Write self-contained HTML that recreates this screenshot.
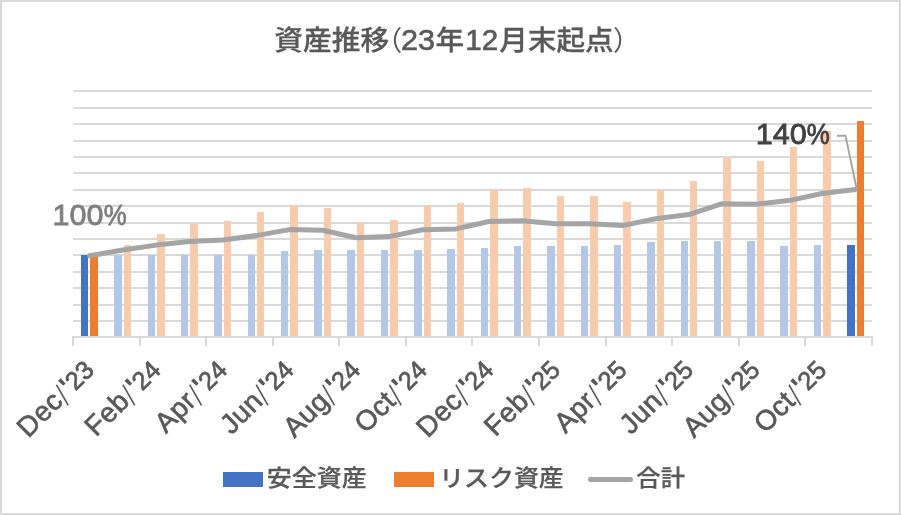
<!DOCTYPE html>
<html lang="ja"><head><meta charset="utf-8"><title>資産推移</title>
<style>html,body{margin:0;padding:0;background:#fff}body{width:901px;height:515px;overflow:hidden}svg{display:block}text{font-family:"Liberation Sans","Noto Sans CJK JP",sans-serif}.t{font-size:28px;fill:#595959;font-weight:500;stroke:#595959;stroke-width:0.3px}.xl{font-size:28px;fill:#595959;text-anchor:end;stroke:#595959;stroke-width:0.65px}.m{letter-spacing:0.4px}.s{font-size:32px;stroke:#fff;stroke-width:0.7px}.q{stroke-width:1.2px}.d{font-size:25.5px;stroke-width:0.7px}.lg{font-size:23.1px;fill:#595959;font-weight:500;stroke:#595959;stroke-width:0.25px}</style></head><body>
<svg width="901" height="515" viewBox="0 0 901 515">
<rect x="0" y="0" width="901" height="515" fill="#fff"/>
<rect x="1" y="1" width="899" height="513" fill="none" stroke="#D9D9D9" stroke-width="2"/>
<g fill="#D9D9D9">
<rect x="73" y="90" width="799" height="2"/>
<rect x="73" y="107" width="799" height="2"/>
<rect x="73" y="123" width="799" height="2"/>
<rect x="73" y="140" width="799" height="2"/>
<rect x="73" y="156" width="799" height="2"/>
<rect x="73" y="172" width="799" height="2"/>
<rect x="73" y="189" width="799" height="2"/>
<rect x="73" y="205" width="799" height="2"/>
<rect x="73" y="222" width="799" height="2"/>
<rect x="73" y="238" width="799" height="2"/>
<rect x="73" y="254" width="799" height="2"/>
<rect x="73" y="271" width="799" height="2"/>
<rect x="73" y="287" width="799" height="2"/>
<rect x="73" y="304" width="799" height="2"/>
<rect x="73" y="320" width="799" height="2"/>
</g>
<g>
<rect x="81" y="255" width="7" height="81" fill="#4472C4"/>
<rect x="90" y="255" width="8" height="81" fill="#ED7D31"/>
<rect x="114" y="255" width="8" height="81" fill="#B4C7E7"/>
<rect x="124" y="245" width="7" height="91" fill="#F8CBAD"/>
<rect x="148" y="255" width="7" height="81" fill="#B4C7E7"/>
<rect x="157" y="234" width="8" height="102" fill="#F8CBAD"/>
<rect x="181" y="255" width="7" height="81" fill="#B4C7E7"/>
<rect x="190" y="224" width="8" height="112" fill="#F8CBAD"/>
<rect x="214" y="255" width="8" height="81" fill="#B4C7E7"/>
<rect x="224" y="221" width="7" height="115" fill="#F8CBAD"/>
<rect x="248" y="255" width="7" height="81" fill="#B4C7E7"/>
<rect x="257" y="212" width="7" height="124" fill="#F8CBAD"/>
<rect x="281" y="251" width="7" height="85" fill="#B4C7E7"/>
<rect x="290" y="205" width="8" height="131" fill="#F8CBAD"/>
<rect x="314" y="250" width="8" height="86" fill="#B4C7E7"/>
<rect x="324" y="208" width="7" height="128" fill="#F8CBAD"/>
<rect x="347" y="250" width="8" height="86" fill="#B4C7E7"/>
<rect x="357" y="223" width="7" height="113" fill="#F8CBAD"/>
<rect x="381" y="250" width="7" height="86" fill="#B4C7E7"/>
<rect x="390" y="220" width="8" height="116" fill="#F8CBAD"/>
<rect x="414" y="250" width="8" height="86" fill="#B4C7E7"/>
<rect x="424" y="205" width="7" height="131" fill="#F8CBAD"/>
<rect x="447" y="249" width="8" height="87" fill="#B4C7E7"/>
<rect x="457" y="203" width="7" height="133" fill="#F8CBAD"/>
<rect x="481" y="248" width="7" height="88" fill="#B4C7E7"/>
<rect x="490" y="190" width="8" height="146" fill="#F8CBAD"/>
<rect x="514" y="246" width="7" height="90" fill="#B4C7E7"/>
<rect x="523" y="188" width="8" height="148" fill="#F8CBAD"/>
<rect x="547" y="246" width="8" height="90" fill="#B4C7E7"/>
<rect x="557" y="196" width="7" height="140" fill="#F8CBAD"/>
<rect x="581" y="246" width="7" height="90" fill="#B4C7E7"/>
<rect x="590" y="196" width="8" height="140" fill="#F8CBAD"/>
<rect x="614" y="245" width="7" height="91" fill="#B4C7E7"/>
<rect x="623" y="202" width="8" height="134" fill="#F8CBAD"/>
<rect x="647" y="242" width="8" height="94" fill="#B4C7E7"/>
<rect x="657" y="190" width="7" height="146" fill="#F8CBAD"/>
<rect x="681" y="241" width="7" height="95" fill="#B4C7E7"/>
<rect x="690" y="181" width="7" height="155" fill="#F8CBAD"/>
<rect x="714" y="241" width="7" height="95" fill="#B4C7E7"/>
<rect x="723" y="158" width="8" height="178" fill="#F8CBAD"/>
<rect x="747" y="241" width="8" height="95" fill="#B4C7E7"/>
<rect x="757" y="161" width="7" height="175" fill="#F8CBAD"/>
<rect x="780" y="246" width="8" height="90" fill="#B4C7E7"/>
<rect x="790" y="147" width="7" height="189" fill="#F8CBAD"/>
<rect x="814" y="245" width="7" height="91" fill="#B4C7E7"/>
<rect x="823" y="131" width="8" height="205" fill="#F8CBAD"/>
<rect x="847" y="245" width="8" height="91" fill="#4472C4"/>
<rect x="857" y="121" width="7" height="215" fill="#ED7D31"/>
</g>
<g fill="#D9D9D9"><rect x="72" y="336" width="801" height="2"/>
<rect x="72" y="336" width="2" height="10"/>
<rect x="139" y="336" width="2" height="10"/>
<rect x="205" y="336" width="2" height="10"/>
<rect x="272" y="336" width="2" height="10"/>
<rect x="338" y="336" width="2" height="10"/>
<rect x="405" y="336" width="2" height="10"/>
<rect x="471" y="336" width="2" height="10"/>
<rect x="538" y="336" width="2" height="10"/>
<rect x="605" y="336" width="2" height="10"/>
<rect x="671" y="336" width="2" height="10"/>
<rect x="738" y="336" width="2" height="10"/>
<rect x="804" y="336" width="2" height="10"/>
<rect x="871" y="336" width="2" height="10"/>
</g>
<polyline points="89.6,255.8 122.9,250.0 156.2,245.1 189.5,241.5 222.8,239.9 256.1,235.6 289.4,229.6 322.7,230.3 356.0,237.7 389.3,236.6 422.6,229.8 455.9,228.9 489.1,221.5 522.4,220.8 555.7,223.7 589.0,223.7 622.3,225.6 655.6,218.8 688.9,214.6 722.2,203.7 755.5,204.2 788.8,200.6 822.1,193.5 855.4,189.6" fill="none" stroke="#A5A5A5" stroke-width="5" stroke-linecap="round" stroke-linejoin="round"/>
<polyline points="837,135.8 845.5,135.8 856.5,188" fill="none" stroke="#A5A5A5" stroke-width="1.9"/>
<text y="225.1" style="font-size:29px;fill:#7F7F7F;stroke:#7F7F7F;stroke-width:0.8px"><tspan x="52.6" textLength="51" lengthAdjust="spacingAndGlyphs">100</tspan><tspan x="103.8" textLength="23" lengthAdjust="spacingAndGlyphs">%</tspan></text>
<text y="143.7" style="font-size:28.8px;fill:#404040;stroke:#404040;stroke-width:0.8px"><tspan x="755.8" textLength="51" lengthAdjust="spacingAndGlyphs">140</tspan><tspan x="806.8" textLength="23" lengthAdjust="spacingAndGlyphs">%</tspan></text>
<text class="t" y="50.1"><tspan x="274.3" textLength="114.8" lengthAdjust="spacingAndGlyphs" style="font-size:27.2px;">資産推移</tspan><tspan x="375" style="font-size:27.2px;font-weight:400;stroke-width:0">（</tspan><tspan x="401" textLength="34" lengthAdjust="spacingAndGlyphs" style="font-size:29.5px;stroke-width:0.6px">23</tspan><tspan x="435.6" textLength="28.6" lengthAdjust="spacingAndGlyphs" style="font-size:27.2px;">年</tspan><tspan x="465.3" textLength="33" lengthAdjust="spacingAndGlyphs" style="font-size:29.5px;stroke-width:0.6px">12</tspan><tspan x="499.3" textLength="114.4" lengthAdjust="spacingAndGlyphs" style="font-size:27.2px;">月末起点</tspan><tspan x="613" style="font-size:27.2px;font-weight:400;stroke-width:0">）</tspan></text>
<text class="xl" transform="translate(95.6,371.4) rotate(-45)"><tspan class="m">Dec</tspan><tspan class="s" dx="-0.5" dy="4.5">/</tspan><tspan class="q" dx="1.5" dy="-4.5">&#39;</tspan><tspan class="d" dx="0.5">23</tspan></text>
<text class="xl" transform="translate(162.2,371.4) rotate(-45)"><tspan class="m">Feb</tspan><tspan class="s" dx="-0.5" dy="4.5">/</tspan><tspan class="q" dx="1.5" dy="-4.5">&#39;</tspan><tspan class="d" dx="0.5">24</tspan></text>
<text class="xl" transform="translate(228.8,371.4) rotate(-45)"><tspan class="m">Apr</tspan><tspan class="s" dx="-0.5" dy="4.5">/</tspan><tspan class="q" dx="1.5" dy="-4.5">&#39;</tspan><tspan class="d" dx="0.5">24</tspan></text>
<text class="xl" transform="translate(295.4,371.4) rotate(-45)"><tspan class="m">Jun</tspan><tspan class="s" dx="-0.5" dy="4.5">/</tspan><tspan class="q" dx="1.5" dy="-4.5">&#39;</tspan><tspan class="d" dx="0.5">24</tspan></text>
<text class="xl" transform="translate(361.9,371.4) rotate(-45)"><tspan class="m">Aug</tspan><tspan class="s" dx="-0.5" dy="4.5">/</tspan><tspan class="q" dx="1.5" dy="-4.5">&#39;</tspan><tspan class="d" dx="0.5">24</tspan></text>
<text class="xl" transform="translate(428.5,371.4) rotate(-45)"><tspan class="m">Oct</tspan><tspan class="s" dx="-0.5" dy="4.5">/</tspan><tspan class="q" dx="1.5" dy="-4.5">&#39;</tspan><tspan class="d" dx="0.5">24</tspan></text>
<text class="xl" transform="translate(495.1,371.4) rotate(-45)"><tspan class="m">Dec</tspan><tspan class="s" dx="-0.5" dy="4.5">/</tspan><tspan class="q" dx="1.5" dy="-4.5">&#39;</tspan><tspan class="d" dx="0.5">24</tspan></text>
<text class="xl" transform="translate(561.7,371.4) rotate(-45)"><tspan class="m">Feb</tspan><tspan class="s" dx="-0.5" dy="4.5">/</tspan><tspan class="q" dx="1.5" dy="-4.5">&#39;</tspan><tspan class="d" dx="0.5">25</tspan></text>
<text class="xl" transform="translate(628.3,371.4) rotate(-45)"><tspan class="m">Apr</tspan><tspan class="s" dx="-0.5" dy="4.5">/</tspan><tspan class="q" dx="1.5" dy="-4.5">&#39;</tspan><tspan class="d" dx="0.5">25</tspan></text>
<text class="xl" transform="translate(694.9,371.4) rotate(-45)"><tspan class="m">Jun</tspan><tspan class="s" dx="-0.5" dy="4.5">/</tspan><tspan class="q" dx="1.5" dy="-4.5">&#39;</tspan><tspan class="d" dx="0.5">25</tspan></text>
<text class="xl" transform="translate(761.4,371.4) rotate(-45)"><tspan class="m">Aug</tspan><tspan class="s" dx="-0.5" dy="4.5">/</tspan><tspan class="q" dx="1.5" dy="-4.5">&#39;</tspan><tspan class="d" dx="0.5">25</tspan></text>
<text class="xl" transform="translate(828.0,371.4) rotate(-45)"><tspan class="m">Oct</tspan><tspan class="s" dx="-0.5" dy="4.5">/</tspan><tspan class="q" dx="1.5" dy="-4.5">&#39;</tspan><tspan class="d" dx="0.5">25</tspan></text>
<rect x="223" y="472" width="40" height="15" fill="#4472C4"/>
<text class="lg" x="266.7" y="486" textLength="100" lengthAdjust="spacingAndGlyphs">安全資産</text>
<rect x="394" y="472" width="40" height="15" fill="#ED7D31"/>
<text class="lg" x="439.2" y="486" textLength="124.6" lengthAdjust="spacingAndGlyphs">リスク資産</text>
<line x1="590.5" y1="479.5" x2="630.5" y2="479.5" stroke="#A5A5A5" stroke-width="5" stroke-linecap="round"/>
<text class="lg" x="636.3" y="486" textLength="48.8" lengthAdjust="spacingAndGlyphs">合計</text>
</svg></body></html>
